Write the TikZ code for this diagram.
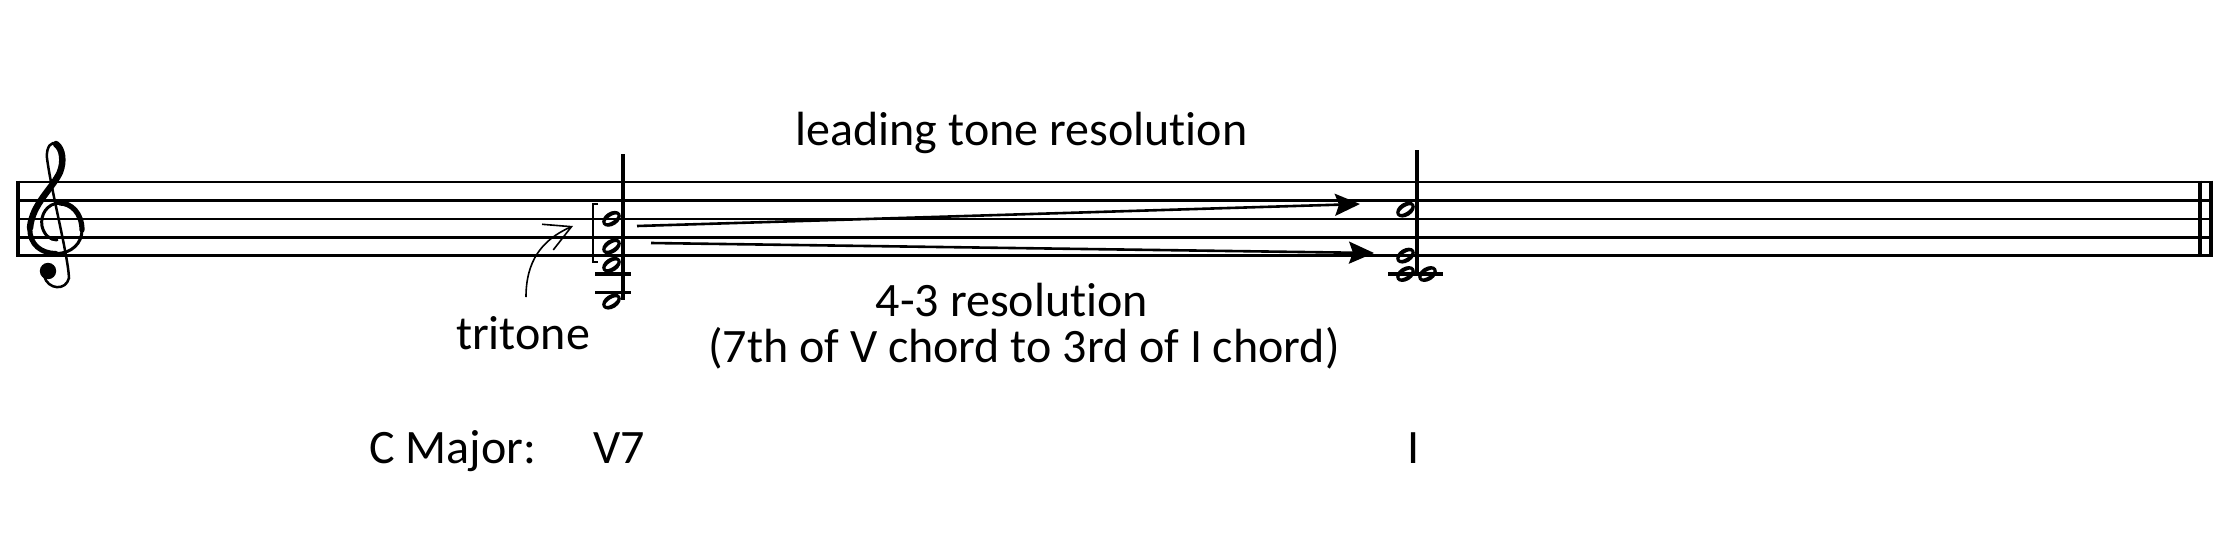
\documentclass[tikz,border=0pt]{standalone}
\usepackage{fontspec}
\setmainfont{Carlito}[Ligatures=NoCommon]
\usetikzlibrary{arrows.meta}
\begin{document}
\begin{tikzpicture}[x=1pt,y=-1pt,
  staffline/.style={line width=2.6pt},
  barline/.style={line width=4.2pt},
  stemline/.style={line width=3.4pt},
  ledger/.style={line width=3.6pt},
  lbl/.style={inner sep=0pt, font=\fontsize{48}{57}\selectfont, anchor=base},
  resarrow/.style={line width=2.6pt, -{Stealth[length=25pt,width=22pt,inset=4pt]}},
  tritarrow/.style={line width=1.6pt, -{Straight Barb[length=26pt,width=28pt,line width=1.6pt]}},
  clefthin/.style={line width=2.5pt, line cap=round},
  halfnote/.pic={\fill[even odd rule, rotate=33] (0,0) ellipse[x radius=10.2pt,y radius=6.8pt] (0,0) ellipse[x radius=7pt,y radius=2.6pt];}
]
\useasboundingbox (0,0) rectangle (2232,547);

% staff
\foreach \yy in {182,200.4,218.8,237.2,255.6}
  \draw[staffline] (16,\yy) -- (2213,\yy);
\draw[barline] (18,180.7) -- (18,256.9);
\draw[barline] (2200.3,180.7) -- (2200.3,256.9);
\draw[line width=3.6pt] (2211,180.7) -- (2211,256.9);

% treble clef
\fill (48,271) circle (8.2pt);
\draw[clefthin] (44,276) .. controls (48,290) and (66,291) .. (69,278)
  .. controls (68,255) and (51,190) .. (47,158)
  .. controls (46,146) and (52,141) .. (56,144);
\draw[line width=6.5pt, line cap=round] (56,144) .. controls (63,149) and (64,162) .. (60,172)
  .. controls (53,188) and (32,204) .. (30,228);
\draw[line width=5pt, line cap=round] (30,228) .. controls (29,245) and (42,253.5) .. (56,253.5);
\draw[line width=3pt, line cap=round] (56,253.5) .. controls (72,253.5) and (82,243) .. (82,230);
\draw[line width=5.2pt, line cap=round] (82,230) .. controls (82,213) and (71,203) .. (60,203);
\draw[line width=3pt, line cap=round] (60,203) .. controls (47,203) and (40,215) .. (42,226)
  .. controls (44,235) and (50,240) .. (57,240);

% V7 chord
\pic at (611.5,218.8) {halfnote};
\pic at (611.5,246.4) {halfnote};
\pic at (611.5,264.8) {halfnote};
\pic at (611.5,301.6) {halfnote};
\draw[ledger] (595,274) -- (631,274);
\draw[ledger] (595,292.4) -- (631,292.4);
\draw[stemline] (623,154) -- (623,300);
\draw[line width=1.3pt] (598,204) -- (593,204) -- (593,262) -- (598,262);

% I chord
\pic at (1405.5,209.6) {halfnote};
\pic at (1405.5,255.6) {halfnote};
\pic at (1405.5,274) {halfnote};
\pic at (1427.5,274) {halfnote};
\draw[ledger] (1388,274) -- (1443,274);
\draw[stemline] (1417,150) -- (1417,272);

% resolution arrows
\coordinate (ltS) at (637,226);
\coordinate (ltE) at (1360,204);
\coordinate (svS) at (651,243);
\coordinate (svE) at (1374,253);
\draw[resarrow] (ltS) -- (ltE);
\draw[resarrow] (svS) -- (svE);

% tritone arrow
\coordinate (ttS) at (526,297);
\coordinate (ttE) at (573,226);
\draw[tritarrow] (ttS) .. controls (526,262) and (541,240) .. (ttE);

% labels
\node[lbl] (lead) at (1021.5,145) {leading tone resolution};
\node[lbl] (four) at (1012,316) {4-3 resolution};
\node[lbl] (sev) at (1024,362) {(7th of V chord to 3rd of I chord)};
\node[lbl] (tri) at (523,349) {tritone};
\node[lbl, anchor=base west] (key) at (369,463) {C Major:};
\node[lbl, anchor=base west] (vsev) at (593,463) {V7};
\node[lbl] (one) at (1414,463) {I};
\end{tikzpicture}
\end{document}
